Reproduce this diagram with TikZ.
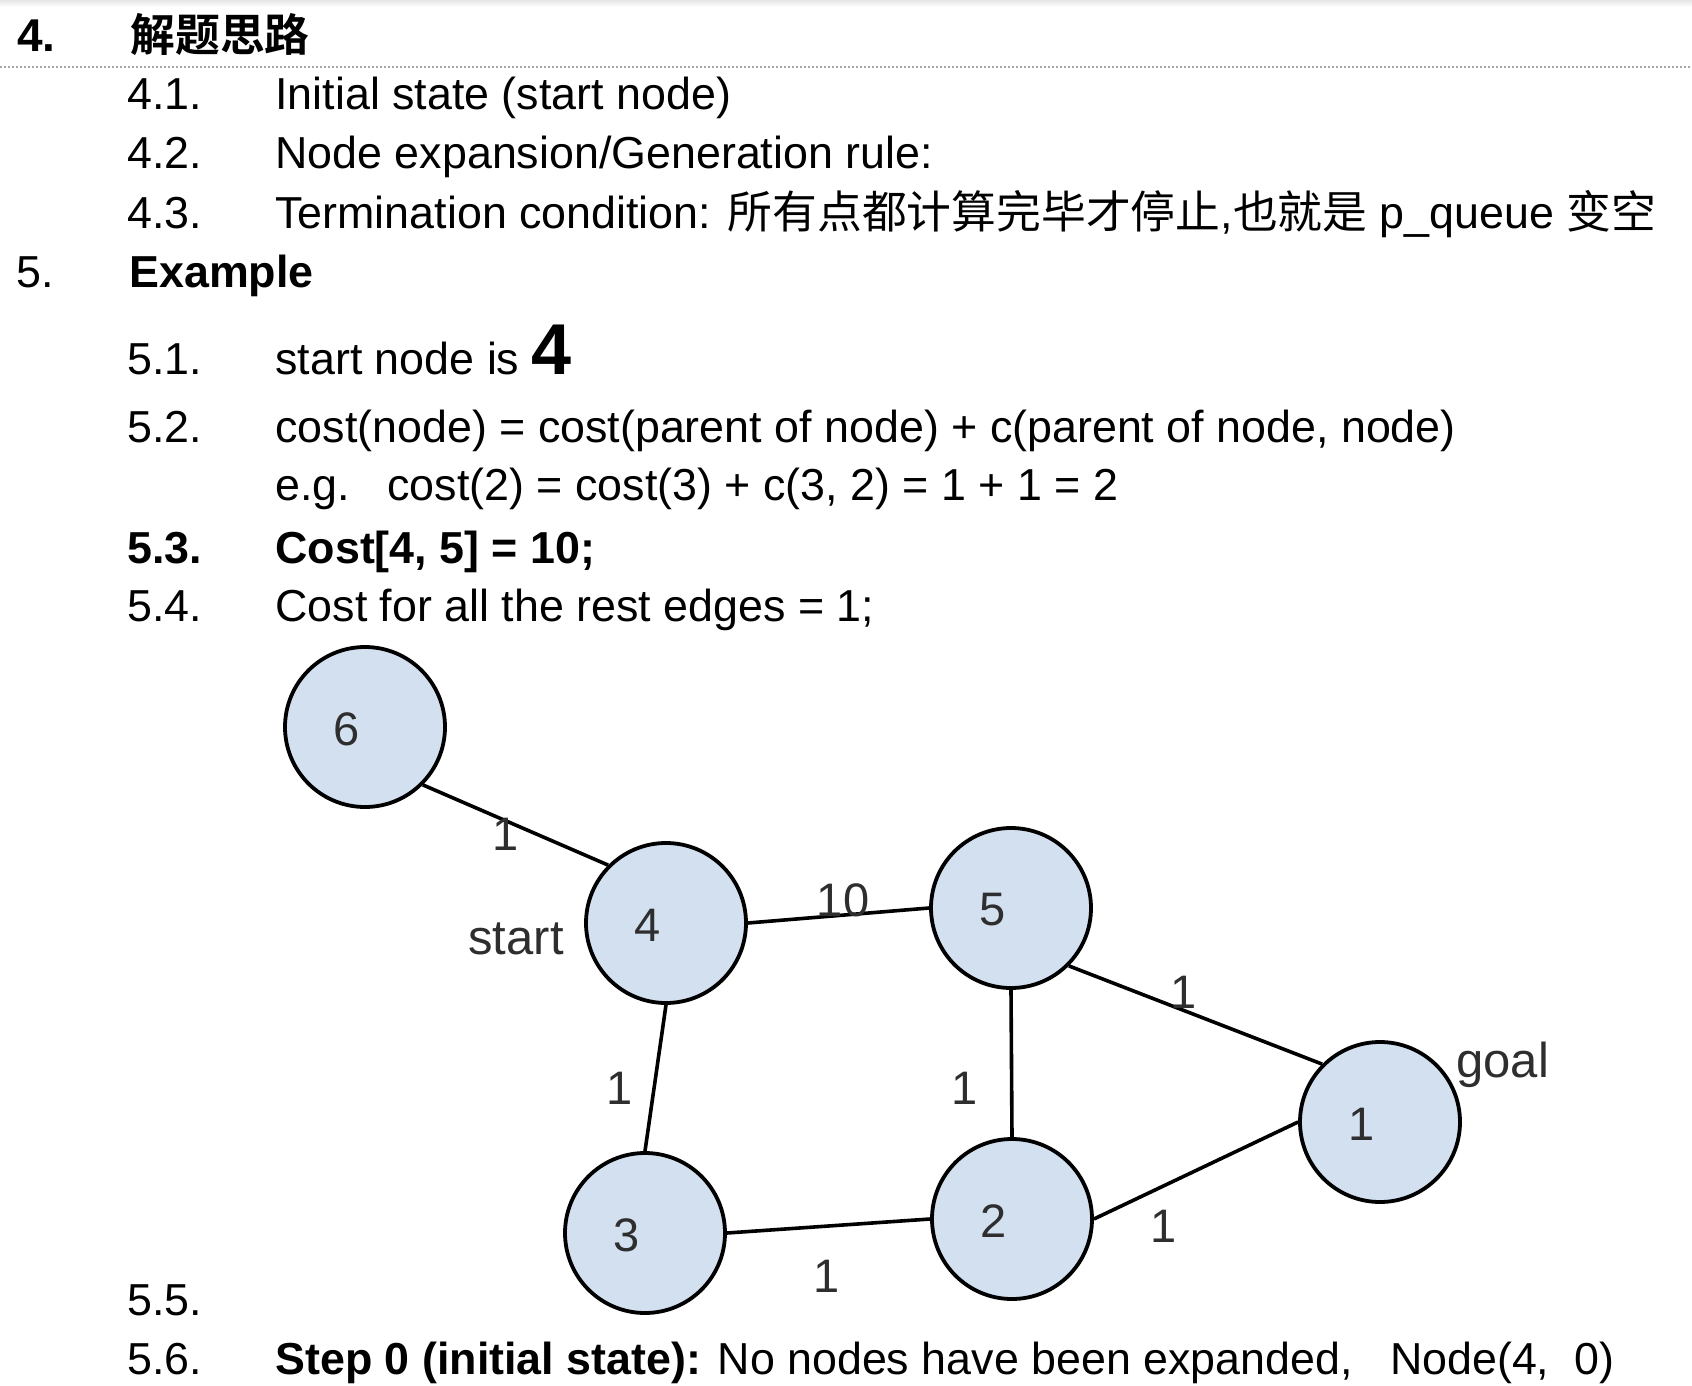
\documentclass[tikz,border=0pt]{standalone}
\usepackage{fontspec}
\setmainfont{Liberation Sans}
\newfontfamily\cjk{Noto Sans CJK SC}[BoldFont={Noto Sans CJK SC Bold}]
\usetikzlibrary{shapes.geometric}
\definecolor{nodefill}{HTML}{D2E0F0}
\definecolor{gtext}{HTML}{2E2E2E}
\definecolor{rulegray}{HTML}{A8A8A8}
\begin{document}
\begin{tikzpicture}[x=0.5pt,y=-0.5pt,
  body/.style={anchor=base west, inner sep=0pt, font=\fontsize{22.4pt}{26pt}\selectfont},
  head/.style={anchor=base west, inner sep=0pt, font=\fontsize{23pt}{27pt}\selectfont\bfseries},
  gnode/.style={circle, draw=black, line width=1.9pt, fill=nodefill, minimum size=80pt, inner sep=0pt},
  gnum/.style={inner sep=0pt, text=gtext, font=\fontsize{23.5pt}{26pt}\selectfont},
  glab/.style={inner sep=0pt, text=gtext, font=\fontsize{23.5pt}{26pt}\selectfont},
  gword/.style={anchor=base west, inner sep=0pt, text=gtext, font=\fontsize{24.5pt}{26pt}\selectfont},
  edge/.style={draw=black, line width=1.8pt}
]
\useasboundingbox (0,0) rectangle (1692,1386);
\fill[white] (0,0) rectangle (1692,1386);
\shade[top color=black!10, bottom color=white] (0,0) rectangle (1692,7);
% heading
\node[head] (h4) at (17,52) {4.};
\node[head, font=\fontsize{22.4pt}{27pt}\selectfont\bfseries] (h4t) at (130,52) {\cjk\bfseries 解题思路};
\draw[rulegray, line width=1pt, dash pattern=on 1pt off 1pt] (0,67.5) -- (1692,67.5);
% 4.x items
\node[body] (n41) at (127,110) {4.1.};
\node[body] (t41) at (275,110) {Initial state (start node)};
\node[body] (n42) at (127,169) {4.2.};
\node[body] (t42) at (275,169) {Node expansion/Generation rule:};
\node[body] (n43) at (127,228) {4.3.};
\node[body] (t43) at (275,228) {Termination condition: {\cjk 所有点都计算完毕才停止},{\cjk 也就是} p\_queue {\cjk 变空}};
% 5
\node[body] (h5) at (16,287) {5.};
\node[body, font=\fontsize{22.4pt}{26pt}\selectfont\bfseries] (h5t) at (129,287) {Example};
\node[body] (n51) at (127,374) {5.1.};
\node[body] (t51) at (275,374) {start node is {\fontsize{36pt}{40pt}\selectfont\bfseries 4}};
\node[body] (n52) at (127,442) {5.2.};
\node[body] (t52) at (275,442) {cost(node) = cost(parent of node) + c(parent of node, node)};
\node[body] (t52b) at (275,500) {e.g.\ \ \ cost(2) = cost(3) + c(3, 2) = 1 + 1 = 2};
\node[body, font=\fontsize{22.4pt}{26pt}\selectfont\bfseries] (n53) at (127,563) {5.3.};
\node[body, font=\fontsize{22.4pt}{26pt}\selectfont\bfseries] (t53) at (275,563) {Cost[4, 5] = 10;};
\node[body] (n54) at (127,621) {5.4.};
\node[body] (t54) at (275,621) {Cost for all the rest edges = 1;};
\node[body] (n55) at (127,1315) {5.5.};
\node[body] (n56) at (127,1374) {5.6.};
\node[body] (t56) at (275,1374) {{\bfseries Step 0 (initial state):} No nodes have been expanded,\ \ \ Node(4,\ \ 0)};
% graph
\node[gnode] (g6) at (365,727) {};
\node[gnode] (g4) at (666,923) {};
\node[gnode] (g5) at (1011,908) {};
\node[gnode] (g1) at (1380,1122) {};
\node[gnode] (g2) at (1012,1219) {};
\node[gnode] (g3) at (645,1233) {};
\foreach \n in {6,4,5,1,2,3}{
  \node[gnum] (d\n) at ([shift={(-18,2)}]g\n.center) {\n};
}
\draw[edge] (g6.south east) -- (g4.north west);
\draw[edge] (g4.east) -- (g5.west);
\draw[edge] (g5.south east) -- (g1.north west);
\draw[edge] (g4.south) -- (g3.north);
\draw[edge] (g5.south) -- (g2.north);
\draw[edge] (g3.east) -- (g2.west);
\draw[edge] (g2.east) -- (g1.west);
\node[glab] (e64) at (506,834) {1};
\node[glab] (e45) at (843,900) {10};
\node[glab] (e51) at (1184,992) {1};
\node[glab] (e43) at (620,1088) {1};
\node[glab] (e52) at (965,1088) {1};
\node[glab] (e32) at (827,1276) {1};
\node[glab] (e21) at (1164,1226) {1};
\node[gword] (start) at (468,954) {start};
\node[gword] (goal) at (1456,1077) {goal};
\end{tikzpicture}
\end{document}
